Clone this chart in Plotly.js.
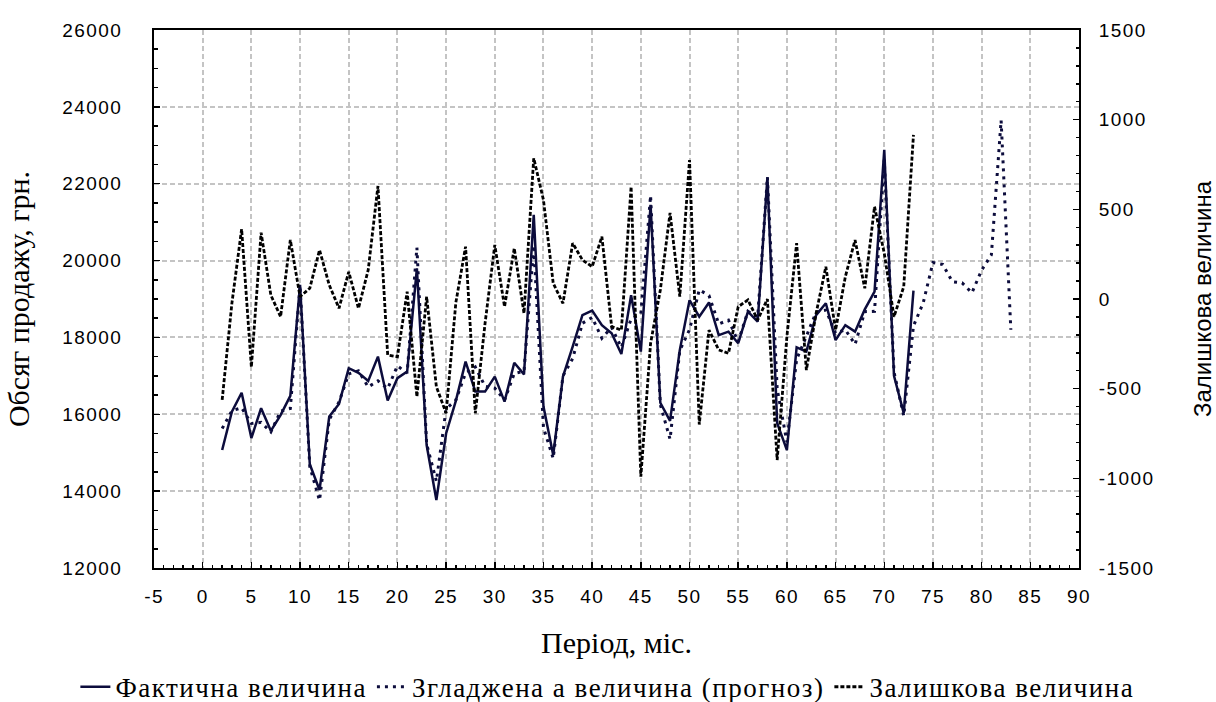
<!DOCTYPE html>
<html>
<head>
<meta charset="utf-8">
<script src="https://cdn.plot.ly/plotly-3.0.1.min.js"></script>
<style>
html, body { margin: 0; padding: 0; background: #fff; }
#chart { width: 1216px; height: 702px; }
.legendtext { font-family: "Liberation Serif", "Times New Roman", serif !important; font-size: 27px !important; letter-spacing: 1.5px; }
.xtick text, .ytick text, .y2tick text { letter-spacing: 1.4px; }
</style>
</head>
<body>
<div id="chart"></div>
<script>
// Months of observed data
const months = [2,3,4,5,6,7,8,9,10,11,12,13,14,15,16,17,18,19,20,21,22,23,24,25,26,27,28,29,30,31,32,33,34,35,36,37,38,39,40,41,42,43,44,45,46,47,48,49,50,51,52,53,54,55,56,57,58,59,60,61,62,63,64,65,66,67,68,69,70,71,72,73];
// Months including forecast horizon
const monthsForecast = [2,3,4,5,6,7,8,9,10,11,12,13,14,15,16,17,18,19,20,21,22,23,24,25,26,27,28,29,30,31,32,33,34,35,36,37,38,39,40,41,42,43,44,45,46,47,48,49,50,51,52,53,54,55,56,57,58,59,60,61,62,63,64,65,66,67,68,69,70,71,72,73,74,75,76,77,78,79,80,81,82,83];

// Фактична величина (left axis, грн.)
const actual = [15070,16070,16560,15380,16160,15570,15980,16480,19370,14700,14030,15940,16270,17200,17080,16870,17500,16360,16940,17110,19800,15200,13770,15500,16350,17370,16590,16590,16980,16330,17340,17040,21190,16200,14940,16980,17760,18580,18700,18320,18110,17570,19100,17630,21450,16300,15830,17670,18970,18540,18910,18060,18150,17850,18670,18410,22170,15770,15070,17740,17630,18580,18890,17930,18320,18150,18730,19190,22880,17000,16030,19220];

// Згладжена величина (прогноз) (left axis)
const smoothed = [15630,16090,16170,15760,15790,15540,16080,16150,19350,14640,13760,15860,16320,17050,17130,16710,16870,16670,17260,17070,20340,15230,14260,16140,16370,17070,17230,16730,16680,16370,17060,17120,20400,15650,14850,17000,17450,18370,18520,17980,18260,17740,18480,18620,21690,16250,15350,17660,18200,19240,19090,18350,18450,17890,18680,18530,22170,16660,15280,17430,18030,18660,18710,18110,18200,17820,18670,18680,22620,17100,15960,18300,18900,19950,19900,19450,19420,19160,19750,20150,23650,18200];

// Залишкова величина (right axis)
const residual = [-563,-24,390,-380,370,22,-99,329,13,60,273,78,-52,152,-52,162,630,-312,-322,41,-545,13,-489,-637,-20,292,-637,-136,301,-43,283,-80,785,552,88,-24,311,218,180,348,-154,-173,626,-991,-247,50,480,13,775,-700,-173,-284,-303,-43,-5,-117,0,-898,-210,311,-396,-80,180,-173,124,329,60,515,255,-99,69,915];

// Tick labels
const xTickVals = [-5,0,5,10,15,20,25,30,35,40,45,50,55,60,65,70,75,80,85,90];
const xTickText = ['-5','0','5','10','15','20','25','30','35','40','45','50','55','60','65','70','75','80','85','90'];
const yTickVals = [12000,14000,16000,18000,20000,22000,24000,26000];
const yTickText = ['12000','14000','16000','18000','20000','22000','24000','26000'];
const y2TickVals = [-1500,-1000,-500,0,500,1000,1500];
const y2TickText = ['-1500','-1000','-500','0','500','1000','1500'];

const navy = '#0c0c3c';

const traces = [
  {
    x: months, y: actual, name: 'Фактична величина',
    type: 'scatter', mode: 'lines',
    line: { color: navy, width: 2.5 }
  },
  {
    x: monthsForecast, y: smoothed, name: 'Згладжена а величина (прогноз)',
    type: 'scatter', mode: 'lines',
    line: { color: navy, width: 3, dash: '3px,5px' }
  },
  {
    x: months, y: residual, name: 'Залишкова величина', yaxis: 'y2',
    type: 'scatter', mode: 'lines',
    line: { color: '#000000', width: 2.8, dash: '4px,2px' }
  }
];

const sans = 'Liberation Sans, Arial, sans-serif';
const serif = 'Liberation Serif, Times New Roman, serif';
const tickFont = { family: sans, size: 19, color: '#000' };
const gridStyle = { showgrid: true, gridcolor: '#c4c4c4', griddash: '5px,3px', gridwidth: 2 };

const layout = {
  width: 1216, height: 702,
  margin: { l: 154, r: 137, t: 30, b: 134, autoexpand: false },
  paper_bgcolor: '#fff', plot_bgcolor: '#fff',
  showlegend: true,
  legend: {
    orientation: 'h', x: -0.085, xanchor: 'left', y: -0.176, yanchor: 'top',
    font: { family: serif, size: 27, color: '#000' },
    itemwidth: 30, tracegroupgap: 0, bgcolor: 'rgba(0,0,0,0)'
  },
  xaxis: Object.assign({
    range: [-5, 90], tickmode: 'array', tickvals: xTickVals, ticktext: xTickText,
    zeroline: false, showline: true, linecolor: '#000', linewidth: 2, mirror: true,
    ticks: 'inside', ticklen: 6, tickwidth: 1.5, tickcolor: '#000', ticklabelstandoff: 10,
    minor: { dtick: 1, tick0: 0, ticks: 'inside', ticklen: 3, tickcolor: '#000', showgrid: false },
    tickfont: tickFont,
    title: { text: 'Період, міс.', font: { family: serif, size: 30, color: '#000' }, standoff: 26 }
  }, gridStyle),
  yaxis: Object.assign({
    range: [12000, 26000], tickmode: 'array', tickvals: yTickVals, ticktext: yTickText,
    zeroline: false, showline: true, linecolor: '#000', linewidth: 2, mirror: true,
    ticks: 'inside', ticklen: 6, tickwidth: 1.5, tickcolor: '#000', ticklabelstandoff: 26,
    minor: { dtick: 500, tick0: 12000, ticks: 'inside', ticklen: 4, tickcolor: '#000', showgrid: false },
    tickfont: tickFont,
    title: { text: 'Обсяг продажу, грн.', font: { family: serif, size: 30, color: '#000' }, standoff: 24 }
  }, gridStyle),
  yaxis2: {
    overlaying: 'y', side: 'right',
    range: [-1500, 1500], tickmode: 'array', tickvals: y2TickVals, ticktext: y2TickText,
    showgrid: false, zeroline: false, showline: true, linecolor: '#000', linewidth: 2,
    ticks: 'inside', ticklen: 6, tickwidth: 1.5, tickcolor: '#000', ticklabelstandoff: 14,
    minor: { dtick: 100, tick0: 0, ticks: 'inside', ticklen: 3, tickcolor: '#000', showgrid: false },
    tickfont: tickFont,
    title: { text: 'Залишкова величина', font: { family: sans, size: 24, color: '#000' }, standoff: 44 }
  }
};

Plotly.newPlot('chart', traces, layout, { displayModeBar: false, staticPlot: true });
</script>
</body>
</html>
